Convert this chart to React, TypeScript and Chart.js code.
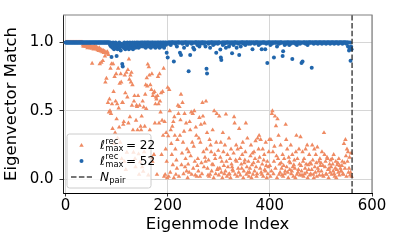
import { useEffect, useRef } from 'react';
import { Chart, registerables } from 'chart.js';

Chart.register(...registerables);

// ---- data -------------------------------------------------------------
const N_PAIR = 561;
const X_TICKS = [0, 200, 400, 600];
const Y_TICKS = [0, 0.5, 1.0];
const X_TITLE = 'Eigenmode Index';
const Y_TITLE = 'Eigenvector Match';
const LEGEND_22 = { base: 'ℓ', sup: 'rec', sub: 'max', rest: '= 22' };
const LEGEND_52 = { base: 'ℓ', sup: 'rec', sub: 'max', rest: '= 52' };
const LEGEND_NPAIR = { base: 'N', sub: 'pair' };

// match for l_max^rec = 52 (index 0..560)
const MATCH_52 = [
  1,1,1,1,1,1,1,1,1,1,1,1,1,1,1,1,1,1,1,1,
  1,1,1,1,1,1,1,1,1,1,1,1,1,1,1,1,1,1,1,1,
  1,1,1,1,1,1,1,1,1,1,1,1,1,1,1,1,1,1,1,1,
  1,1,1,1,1,1,1,1,1,1,1,1,1,1,1,1,1,1,1,1,
  1,1,1,1,1,1,1,0.98,1,0.97,0.894,0.99,0.96,1,0.98,0.95,0.99,0.97,1,0.96,
  0.9,0.98,0.95,0.99,0.97,1,0.96,0.98,0.94,0.99,0.97,0.843,0.824,0.98,0.96,1,0.97,0.95,0.99,0.98,
  0.96,1,0.97,0.99,0.95,0.98,1,0.96,0.99,0.97,0.98,1,0.95,0.99,0.97,1,0.98,0.96,0.99,1,
  0.97,0.98,1,0.96,0.99,0.98,1,0.97,0.99,1,0.98,1,0.97,0.99,1,0.98,1,0.96,0.99,1,
  0.98,1,0.97,1,0.99,0.98,1,0.96,0.99,1,0.98,1,0.97,0.99,1,0.98,0.96,1,0.99,0.97,
  1,0.98,1,0.99,0.96,1,0.98,1,0.97,0.99,1,0.98,1,0.96,0.99,1,0.98,1,0.924,0.99,
  0.889,1,1,0.99,1,1,0.98,1,1,1,1,1,0.861,1,1,0.99,1,1,0.97,1,
  1,1,1,1,0.924,1,0.908,1,1,0.99,1,1,0.96,1,1,1,1,1,0.98,1,
  1,0.79,1,1,0.908,1,1,0.99,1,1,0.96,1,0.948,1,1,1,1,1,0.98,1,
  1,1,0.97,1,1,0.99,1,1,1,1,1,0.99,1,1,0.97,1,0.807,0.772,1,1,
  0.99,1,1,0.96,1,1,1,1,1,0.98,1,1,0.99,1,1,0.924,1,1,0.99,1,
  1,1,1,0.948,0.889,0.871,1,1,0.98,1,1,0.99,1,1,0.96,1,1,1,1,1,
  0.97,1,1,0.99,1,1,0.92,1,1,0.98,1,1,1,1,1,0.96,1,1,0.99,1,
  0.908,1,1,0.97,1,1,1,1,1,0.99,1,1,0.98,1,1,1,1,1,0.99,1,
  1,1,0.99,1,1,1,0.95,1,1,1,0.99,1,1,1,1,1,1,1,0.98,1,
  1,0.99,1,1,0.95,1,1,1,1,1,1,0.95,1,0.99,1,0.85,1,1,1,1,
  1,0.98,1,1,0.99,1,1,1,0.889,1,1,1,1,1,0.97,1,1,1,0.99,1,
  1,1,1,1,1,0.9,0.936,1,1,0.98,1,1,0.99,1,1,1,1,1,0.98,1,
  1,0.99,1,1,0.878,1,1,1,1,1,0.99,1,1,0.98,1,1,1,1,1,0.99,
  1,1,0.85,1,0.861,1,1,1,1,1,0.99,1,1,1,0.98,1,1,1,1,1,
  1,1,0.815,1,1,1,0.99,1,1,1,1,1,1,1,0.99,1,1,1,1,1,
  1,1,0.99,1,1,1,1,1,1,1,0.99,1,1,1,1,1,1,1,0.99,1,
  1,1,1,1,1,1,0.99,1,1,1,1,1,1,1,0.99,1,1,1,1,1,
  1,1,0.99,1,1,1,1,1,1,1,0.99,1,1,0.97,1,0.94,0.96,1,0.866,0.97,0.95,
];

// match for l_max^rec = 22 (index 0..560)
const MATCH_22 = [
  1,1,1,1,1,1,1,1,1,1,1,1,1,1,1,1,1,1,1,1,
  1,1,1,1,1,1,1,1,1,1,1,1,1,1,0.98,0.97,0.985,0.975,0.99,0.97,
  0.98,0.97,0.985,0.96,0.975,0.97,0.98,0.965,0.96,0.975,0.97,0.955,0.847,0.965,0.97,0.95,0.96,0.975,0.955,0.96,
  0.97,0.95,0.96,0.945,0.955,0.94,0.96,0.843,0.95,0.935,0.854,0.945,0.93,0.866,0.94,0.925,0.935,0.9,0.709,0.93,
  0.737,0.92,0.93,0.56,0.91,0.49,0.585,0.5,0.81,0.48,0.843,0.55,0.37,0.843,0.64,0.26,0.75,0.34,0.57,0.77,
  0.44,0.55,0.3,0.81,0.52,0.38,0.7,0.27,0.77,0.71,0.15,0.56,0.56,0.4,0.42,0.13,0.76,0.63,0.07,0.78,
  0.197,0.6,0.8,0.41,0.878,0.73,0.456,0.76,0.71,0.78,0.54,0.69,0.36,0.197,0.57,0.61,0.15,0.09,0.43,0.54,
  0.53,0.36,0.61,0.185,0.035,0.54,0.126,0.386,0.36,0.46,0.09,0.57,0.058,0.527,0.2,0.386,0.62,0.69,0.515,0.74,
  0.68,0.84,0.03,0.82,0.76,0.36,0.69,0.16,0.655,0.77,0.13,0.61,0.63,0.18,0.64,0.41,0.55,0.6,0.585,0.035,
  0.61,0.75,0.55,0.41,0.77,0.57,0.49,0.63,0.18,0.43,0.64,0.32,0.81,0.02,0.42,0.035,0.22,0.34,0.13,0.01,
  0.67,0.316,0.02,0.655,0.5,0.05,0.36,0.26,0.18,0.386,0.105,0.42,0.01,0.456,0.32,0.22,0.035,0.14,0.08,0.29,
  0.54,0.48,0.02,0.53,0.32,0.433,0.62,0.105,0.19,0.56,0.27,0.04,0.35,0.48,0.09,0.15,0.41,0.06,0.22,0.01,
  0.11,0.2,0.05,0.42,0.36,0.17,0.49,0.035,0.27,0.48,0.08,0.24,0.5,0.13,0.03,0.38,0.32,0.02,0.1,0.15,
  0.06,0.3,0.45,0.02,0.27,0.4,0.12,0.04,0.56,0.46,0.2,0.09,0.41,0.16,0.13,0.57,0.22,0.34,0.08,0.03,
  0.14,0.02,0.29,0.035,0.25,0.2,0.06,0.11,0.36,0.105,0.01,0.5,0.18,0.15,0.04,0.27,0.48,0.07,0.08,0.21,
  0.03,0.46,0.08,0.16,0.27,0.05,0.13,0.01,0.34,0.2,0.1,0.04,0.25,0.06,0.475,0.13,0.02,0.18,0.09,0.035,
  0.3,0.04,0.15,0.01,0.22,0.11,0.09,0.07,0.06,0.19,0.456,0.41,0.035,0.14,0.25,0.13,0.02,0.22,0.08,0.05,
  0.37,0.15,0.03,0.23,0.11,0.08,0.18,0.27,0.01,0.06,0.12,0.14,0.2,0.41,0.035,0.09,0.3,0.05,0.13,0.02,
  0.05,0.08,0.17,0.25,0.01,0.105,0.19,0.035,0.12,0.2,0.06,0.15,0.28,0.09,0.02,0.04,0.3,0.13,0.22,0.32,
  0.16,0.08,0.29,0.05,0.035,0.11,0.22,0.02,0.14,0.18,0.07,0.06,0.27,0.1,0.01,0.13,0.04,0.09,0.2,0.29,
  0.1,0.02,0.29,0.06,0.48,0.5,0.2,0.04,0.13,0.24,0.46,0.08,0.39,0.17,0.01,0.44,0.15,0.32,0.035,0.11,
  0.05,0.25,0.12,0.08,0.03,0.18,0.02,0.1,0.15,0.04,0.06,0.4,0.29,0.09,0.22,0.05,0.01,0.16,0.13,0.07,
  0.12,0.25,0.04,0.06,0.18,0.09,0.02,0.105,0.14,0.08,0.01,0.2,0.32,0.035,0.15,0.05,0.07,0.22,0.11,0.03,
  0.31,0.1,0.06,0.03,0.2,0.13,0.02,0.15,0.04,0.08,0.22,0.11,0.05,0.25,0.01,0.105,0.07,0.18,0.03,0.12,
  0.04,0.11,0.07,0.25,0.14,0.035,0.01,0.22,0.09,0.05,0.18,0.12,0.02,0.235,0.08,0.06,0.13,0.03,0.15,0.1,
  0.12,0.06,0.2,0.03,0.1,0.02,0.34,0.18,0.09,0.13,0.04,0.035,0.16,0.15,0.07,0.01,0.08,0.11,0.05,0.14,
  0.09,0.035,0.15,0.11,0.06,0.18,0.04,0.02,0.08,0.13,0.01,0.07,0.105,0.12,0.05,0.15,0.03,0.1,0.08,0.06,
  0.06,0.1,0.13,0.04,0.035,0.26,0.12,0.08,0.29,0.17,0.02,0.22,0.13,0.2,0.05,0.08,0.16,0.03,0.05,0.19,0.02,
];

// ---- styles -----------------------------------------------------------
const ORANGE = '#ef8a62';
const BLUE = '#2166ac';
const FONT = '"DejaVu Sans"';
const R_BLUE = 2.0;
const R_ORANGE = 2.6;

type MathLabel = { base: string; sup?: string; sub?: string; rest?: string };

function drawMath(ctx: CanvasRenderingContext2D, x: number, baseline: number, lab: MathLabel, size: number) {
  ctx.fillStyle = '#000';
  ctx.textAlign = 'left';
  ctx.textBaseline = 'alphabetic';
  ctx.font = `italic ${size}px ${FONT}`;
  ctx.fillText(lab.base, x, baseline);
  let cx = x + ctx.measureText(lab.base).width + 0.3;
  const s = size * 0.7;
  ctx.font = `${s}px ${FONT}`;
  let w = 0;
  if (lab.sup) {
    ctx.fillText(lab.sup, cx, baseline - size * 0.42);
    w = Math.max(w, ctx.measureText(lab.sup).width);
  }
  if (lab.sub) {
    ctx.fillText(lab.sub, cx, baseline + size * 0.2);
    w = Math.max(w, ctx.measureText(lab.sub).width);
  }
  cx += w;
  if (lab.rest) {
    ctx.font = `${size}px ${FONT}`;
    ctx.fillText(lab.rest, cx + size * 0.2, baseline);
  }
}

const overlayPlugin = {
  id: 'overlay',
  afterDatasetsDraw(chart: any) {
    const { ctx, chartArea, scales } = chart;
    const xs = scales.x;
    // N_pair dashed line
    const px = xs.getPixelForValue(N_PAIR);
    ctx.save();
    ctx.strokeStyle = 'rgba(40,40,40,0.85)';
    ctx.lineWidth = 1.5;
    ctx.setLineDash([5.5, 2.4]);
    ctx.beginPath();
    ctx.moveTo(px, chartArea.top);
    ctx.lineTo(px, chartArea.bottom);
    ctx.stroke();
    ctx.restore();

    // legend
    ctx.save();
    const lx = 67, ly = 134, lw = 84, lh = 54, r = 2.5;
    ctx.beginPath();
    ctx.moveTo(lx + r, ly);
    ctx.lineTo(lx + lw - r, ly);
    ctx.arcTo(lx + lw, ly, lx + lw, ly + r, r);
    ctx.lineTo(lx + lw, ly + lh - r);
    ctx.arcTo(lx + lw, ly + lh, lx + lw - r, ly + lh, r);
    ctx.lineTo(lx + r, ly + lh);
    ctx.arcTo(lx, ly + lh, lx, ly + lh - r, r);
    ctx.lineTo(lx, ly + r);
    ctx.arcTo(lx, ly, lx + r, ly, r);
    ctx.closePath();
    ctx.fillStyle = 'rgba(255,255,255,0.8)';
    ctx.fill();
    ctx.strokeStyle = '#cccccc';
    ctx.lineWidth = 1;
    ctx.stroke();

    // markers
    const mx = 81.5;
    const ty = 145.5;
    ctx.fillStyle = ORANGE;
    ctx.beginPath();
    for (let k = 0; k < 3; k++) {
      const a = (k * 2 * Math.PI) / 3;
      const X = mx + Math.sin(a) * R_ORANGE;
      const Y = ty - Math.cos(a) * R_ORANGE;
      if (k === 0) ctx.moveTo(X, Y); else ctx.lineTo(X, Y);
    }
    ctx.closePath();
    ctx.fill();
    ctx.fillStyle = BLUE;
    ctx.beginPath();
    ctx.arc(mx, 161, R_BLUE, 0, Math.PI * 2);
    ctx.fill();
    ctx.strokeStyle = 'rgba(40,40,40,0.85)';
    ctx.lineWidth = 1.5;
    ctx.setLineDash([5.5, 2.4]);
    ctx.beginPath();
    ctx.moveTo(71, 177);
    ctx.lineTo(92, 177);
    ctx.stroke();
    ctx.setLineDash([]);

    drawMath(ctx, 100, 149, LEGEND_22, 12);
    drawMath(ctx, 100, 164.5, LEGEND_52, 12);
    drawMath(ctx, 100, 181, LEGEND_NPAIR, 12);
    ctx.restore();
  },
  afterDraw(chart: any) {
    const { ctx, chartArea } = chart;
    ctx.save();
    ctx.strokeStyle = '#808080';
    ctx.lineWidth = 1.2;
    ctx.beginPath();
    ctx.moveTo(chartArea.left, chartArea.top);
    ctx.lineTo(chartArea.right, chartArea.top);
    ctx.lineTo(chartArea.right, chartArea.bottom);
    ctx.stroke();
    ctx.restore();
  },
};

export default function App() {
  const ref = useRef<HTMLCanvasElement | null>(null);

  useEffect(() => {
    if (!ref.current) return;
    const chart = new Chart(ref.current, {
      type: 'scatter',
      data: {
        datasets: [
          {
            label: 'l52',
            data: MATCH_52.map((y, i) => ({ x: i, y })),
            pointStyle: 'circle',
            pointRadius: R_BLUE,
            pointHoverRadius: R_BLUE,
            backgroundColor: BLUE,
            borderWidth: 0,
            order: 1,
          },
          {
            label: 'l22',
            data: MATCH_22.map((y, i) => ({ x: i, y })),
            pointStyle: 'triangle',
            pointRadius: R_ORANGE,
            pointHoverRadius: R_ORANGE,
            backgroundColor: ORANGE,
            borderWidth: 0,
            order: 2,
          },
        ],
      },
      options: {
        animation: false,
        responsive: false,
        devicePixelRatio: 1,
        layout: { padding: { left: 0, right: 25, top: 7, bottom: 0 } },
        plugins: { legend: { display: false }, tooltip: { enabled: false } },
        events: [],
        scales: {
          x: {
            type: 'linear',
            min: -5,
            max: 600,
            afterFit: (s: any) => { s.height = 52; },
            afterBuildTicks: (s: any) => { s.ticks = X_TICKS.map((v) => ({ value: v })); },
            ticks: {
              callback: (v: any) => String(v),
              font: { family: 'DejaVu Sans', size: 15 },
              color: '#000',
              padding: 1,
              maxRotation: 0,
            },
            grid: { color: '#d6d6d6', lineWidth: 1, tickColor: '#222', tickLength: 3.5, tickWidth: 0.9 },
            border: { display: true, color: '#000', width: 1 },
            title: {
              display: true,
              text: X_TITLE,
              font: { family: 'DejaVu Sans', size: 16.5 },
              color: '#000',
              padding: { top: 0, bottom: 10 },
            },
          },
          y: {
            type: 'linear',
            min: -0.1,
            max: 1.2,
            afterFit: (s: any) => { s.width = 63; },
            afterBuildTicks: (s: any) => { s.ticks = Y_TICKS.map((v) => ({ value: v })); },
            ticks: {
              callback: (v: any) => Number(v).toFixed(1),
              font: { family: 'DejaVu Sans', size: 15 },
              color: '#000',
              padding: 6,
            },
            grid: { color: '#d6d6d6', lineWidth: 1, tickColor: '#222', tickLength: 3.5, tickWidth: 0.9 },
            border: { display: true, color: '#222', width: 1 },
            title: {
              display: true,
              text: Y_TITLE,
              font: { family: 'DejaVu Sans', size: 16.5 },
              color: '#000',
              padding: { top: 2, bottom: 0 },
            },
          },
        },
      },
      plugins: [overlayPlugin],
    });
    return () => chart.destroy();
  }, []);

  return (
    <div style={{ position: 'fixed', left: 0, top: 0, width: 397, height: 245, background: '#fff' }}>
      <canvas ref={ref} width={397} height={245} style={{ width: 397, height: 245, display: 'block' }} />
    </div>
  );
}
